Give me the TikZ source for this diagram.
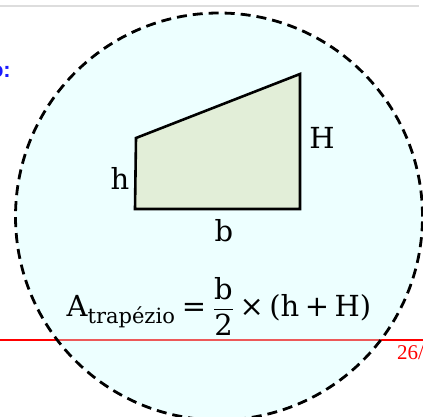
\documentclass[tikz,border=0pt]{standalone}
\usepackage{amsmath}
\usepackage{fontspec}
\usepackage{tikz}
\usetikzlibrary{positioning,calc}
\setmainfont{DejaVu Serif}
\newfontfamily\slidesans{Liberation Sans}
\newfontfamily\slideserif{Liberation Serif}
\definecolor{Halo}{RGB}{204,255,255}
\definecolor{Trap}{HTML}{E2EED8}
\definecolor{RuleGray}{HTML}{DDDDDD}
\definecolor{SlideBlue}{HTML}{1A1AFF}
\definecolor{SlideRed}{HTML}{FF0000}
\newcommand{\tx}[1]{\text{#1}}
\newcommand{\subtx}[1]{\raisebox{-7pt}{\fontsize{21}{24}\selectfont #1}}

\begin{document}
\begin{tikzpicture}[x=1pt,y=-1pt,
  lbl/.style={font=\fontsize{29}{34}\selectfont,inner sep=0pt},
  halo/.style={draw=black,line width=2.8pt,dash pattern=on 10pt off 6pt,fill=Halo,fill opacity=0.35,draw opacity=1},
  trap/.style={draw=black,line width=2.6pt,fill=Trap,line join=miter}]
\useasboundingbox (0,0) rectangle (423,417);
% slide background
\draw[RuleGray,line width=2pt] (0,6) -- (419,6);
\node[anchor=east,inner sep=0pt,text=SlideBlue,font=\slidesans\bfseries\fontsize{22}{26}\selectfont] (title) at (11,72) {o:};
\draw[SlideRed,line width=2pt] (0,340) -- (423,340);
\node[anchor=north west,inner sep=0pt,text=SlideRed,font=\slideserif\fontsize{21}{24}\selectfont] (page) at (397,345) {26/};
% dashed circle
\node[halo,circle,minimum size=407pt,inner sep=0pt] (zoom) at (219,216.5) {};
% trapezoid
\coordinate (bl) at (135,209);
\coordinate (tl) at (136,138);
\coordinate (tr) at (300,74);
\coordinate (br) at (300,209);
\draw[trap] (bl) -- (tl) -- (tr) -- (br) -- cycle;
\node[lbl] (h) at (120,178) {h};
\node[lbl] (H) at (322,138) {H};
\node[lbl] (b) at (224,231) {b};
% area formula
\node[lbl,anchor=base] (area) at (219,316)
  {$\displaystyle \mathrm{A}\tx{\subtx{trapézio}} \mathrel{\tx{=}} \frac{\mathrm{b}}{\mathrm{2}} \mathbin{\tx{×}} \tx{(}\mathrm{h} \mathbin{\tx{+}} \mathrm{H}\tx{)}$};
\end{tikzpicture}
\end{document}
